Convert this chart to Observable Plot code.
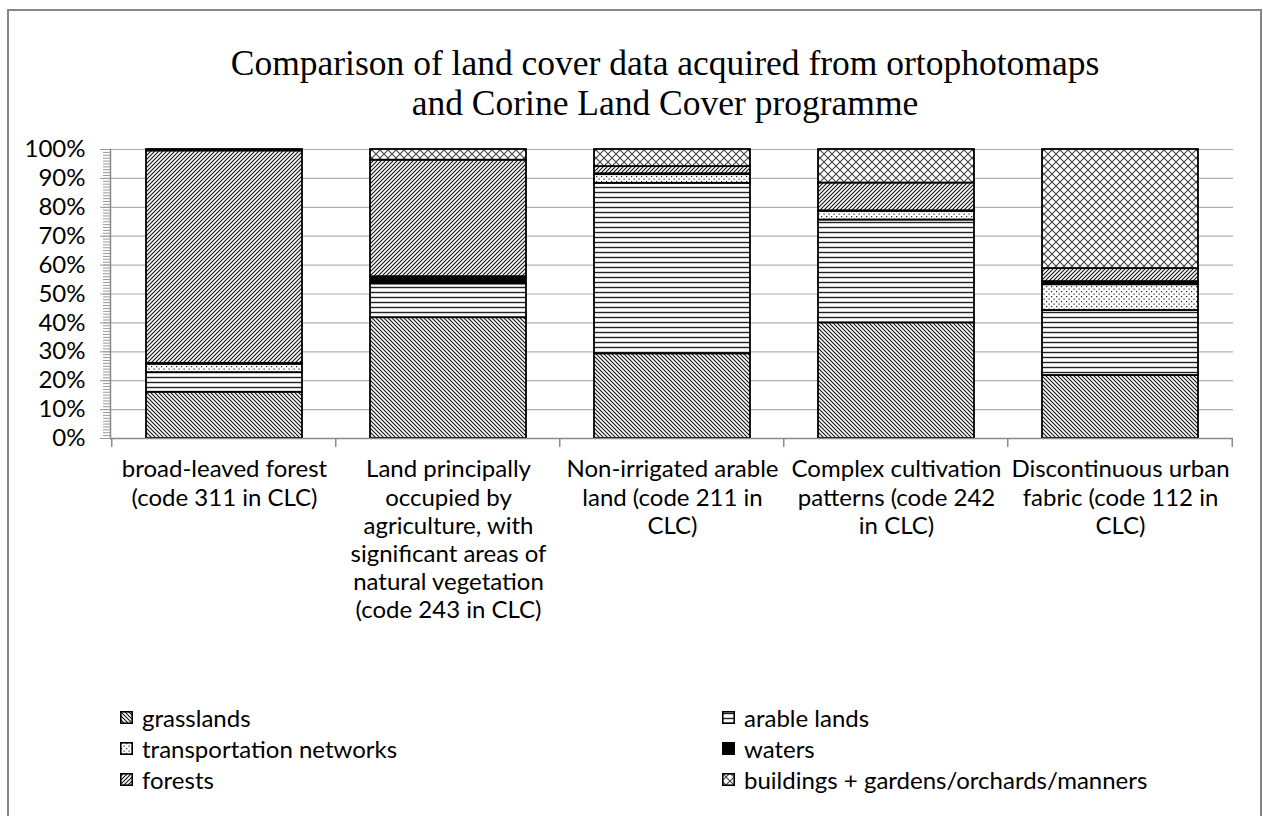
<!DOCTYPE html>
<html>
<head>
<meta charset="utf-8">
<script src="https://cdn.jsdelivr.net/npm/d3@7"></script>
<script src="https://cdn.jsdelivr.net/npm/@observablehq/plot@0.6"></script>
<style>
  html, body { margin: 0; padding: 0; background: #fff; }
  body { width: 1263px; height: 816px; position: relative; overflow: hidden; font-family: Lato, sans-serif; }
  #frame { position: absolute; left: 7px; top: 9px; width: 1255px; height: 830px; border: 2px solid #868686; box-sizing: border-box; }
  #title { position: absolute; left: 0; top: 43px; width: 1330px; text-align: center; font-family: "Liberation Serif", "Times New Roman", serif; font-size: 35.5px; line-height: 40px; color: #000; }
  #chart { position: absolute; left: 0; top: 130px; }
  #chart svg { overflow: visible; }
  #legend { position: absolute; left: 120px; top: 702px; display: grid; grid-template-columns: 602px auto; grid-auto-rows: 31px; font-size: 24px; color: #000; }
  .item { display: flex; align-items: center; white-space: nowrap; }
  .item svg { margin-right: 9px; }
</style>
</head>
<body>
<svg width="0" height="0" style="position:absolute">
  <defs>
    <pattern id="p-grass" patternUnits="userSpaceOnUse" width="4" height="4">
      <rect width="4" height="4" fill="#fff"/>
      <path d="M-1,-1 L5,5 M3,-1 L5,1 M-1,3 L1,5" stroke="#111" stroke-width="1.1"/>
    </pattern>
    <pattern id="p-forest" patternUnits="userSpaceOnUse" width="4" height="4">
      <rect width="4" height="4" fill="#fff"/>
      <path d="M-1,5 L5,-1 M-1,1 L1,-1 M3,5 L5,3" stroke="#111" stroke-width="1.1"/>
    </pattern>
    <pattern id="p-arable" patternUnits="userSpaceOnUse" width="8" height="5">
      <rect width="8" height="5" fill="#fff"/>
      <path d="M0,2.5 L8,2.5" stroke="#222" stroke-width="1.4"/>
    </pattern>
    <pattern id="p-transport" patternUnits="userSpaceOnUse" width="5" height="5">
      <rect width="5" height="5" fill="#fff"/>
      <rect x="1" y="1" width="1.2" height="1.2" fill="#222"/>
      <rect x="3.5" y="3.5" width="1.2" height="1.2" fill="#222"/>
    </pattern>
    <pattern id="p-water" patternUnits="userSpaceOnUse" width="4" height="4">
      <rect width="4" height="4" fill="#000"/>
    </pattern>
    <pattern id="p-build" patternUnits="userSpaceOnUse" width="8" height="8">
      <rect width="8" height="8" fill="#fff"/>
      <path d="M0,0 L8,8 M8,0 L0,8" stroke="#444" stroke-width="1.1"/>
    </pattern>
  </defs>
</svg>
<div id="frame"></div>
<div id="title">Comparison of land cover data acquired from ortophotomaps<br>and Corine Land Cover programme</div>
<div id="chart"></div>
<div id="legend"></div>
<script>
// ---- data ----
const categories = ["311", "243", "211", "242", "112"];
const categoryLabels = [
  "broad-leaved forest\n(code 311 in CLC)",
  "Land principally\noccupied by\nagriculture, with\nsignificant areas of\nnatural vegetation\n(code 243 in CLC)",
  "Non-irrigated arable\nland (code 211 in\nCLC)",
  "Complex cultivation\npatterns (code 242\nin CLC)",
  "Discontinuous urban\nfabric (code 112 in\nCLC)"
];
const seriesNames = ["grasslands", "arable lands", "transportation networks", "waters", "forests", "buildings + gardens/orchards/manners"];
const grasslands  = [16.0, 41.8, 29.3, 40.0, 21.8];
const arable      = [ 6.8, 11.7, 59.0, 35.6, 22.5];
const transport   = [ 2.9,  0.0,  3.0,  3.0,  8.9];
const waters      = [ 0.3,  2.5,  0.3,  0.2,  1.1];
const forests     = [73.5, 40.3,  2.5,  9.6,  4.5];
const buildings   = [ 0.5,  3.7,  5.9, 11.6, 41.2];
const yTicks = [0, 10, 20, 30, 40, 50, 60, 70, 80, 90, 100];
const patterns = ["url(#p-grass)", "url(#p-arable)", "url(#p-transport)", "url(#p-water)", "url(#p-forest)", "url(#p-build)"];

const seriesValues = [grasslands, arable, transport, waters, forests, buildings];
const data = seriesNames.flatMap((s, i) =>
  categories.map((c, j) => ({category: c, series: s, value: seriesValues[i][j]})));

const W = 1263, H = 480, ML = 110, MR = 30, MT = 19, MB = 172;
const step = (W - ML - MR) / categories.length;

const plot = Plot.plot({
  width: W, height: H,
  marginLeft: ML, marginRight: MR, marginTop: MT, marginBottom: MB,
  style: {fontFamily: "Lato, sans-serif", fontSize: "24px", color: "#000", background: "transparent"},
  x: {domain: categories, paddingInner: 0.305, paddingOuter: 0.1525, align: 0.5, label: null},
  y: {domain: [0, 100], label: null},
  color: {type: "ordinal", domain: seriesNames, range: patterns},
  marks: [
    Plot.gridY(yTicks, {stroke: "#b0b0b0", strokeOpacity: 1, strokeWidth: 1.2}),
    Plot.axisY({ticks: d3.range(0, 101, 1), tickSize: 7, tickFormat: () => "", stroke: "#9a9a9a"}),
    Plot.axisY({ticks: yTicks, tickSize: 10, tickPadding: 15, tickFormat: d => d + "%", stroke: "#9a9a9a", fontSize: 24}),
    Plot.barY(data, {x: "category", y: "value", fill: "series", stroke: "#000", strokeWidth: 1.8}),
    Plot.ruleY([0], {stroke: "#8a8a8a", strokeWidth: 1.5}),
    Plot.frame({anchor: "left", stroke: "#8a8a8a", strokeWidth: 1.5}),
    Plot.axisX({tickSize: 0, tickPadding: 19, tickFormat: (d) => categoryLabels[categories.indexOf(d)], lineHeight: 1.17, fontSize: 24})
  ]
});

// boundary tick marks below x axis, positioned from the x scale
const sx = plot.scale("x"), sy = plot.scale("y");
document.getElementById("chart").appendChild(plot);
const svg = d3.select(plot);
const y0 = sy.apply(0);
const edges = categories.map(c => sx.apply(c) - step * 0.1525).concat([sx.apply(categories[categories.length - 1]) + sx.bandwidth + step * 0.1525]);
svg.append("g").selectAll("line").data(edges).join("line")
  .attr("x1", d => d).attr("x2", d => d).attr("y1", y0).attr("y2", y0 + 9)
  .attr("stroke", "#8a8a8a").attr("stroke-width", 1.5);

// legend
const legend = d3.select("#legend");
seriesNames.forEach((name, i) => {
  const it = legend.append("div").attr("class", "item");
  const s = it.append("svg").attr("width", 13).attr("height", 13);
  s.append("rect").attr("x", 0.8).attr("y", 0.8).attr("width", 11.4).attr("height", 11.4)
    .attr("fill", patterns[i]).attr("stroke", "#000").attr("stroke-width", 1.6);
  it.append("span").text(name);
});
</script>
</body>
</html>
